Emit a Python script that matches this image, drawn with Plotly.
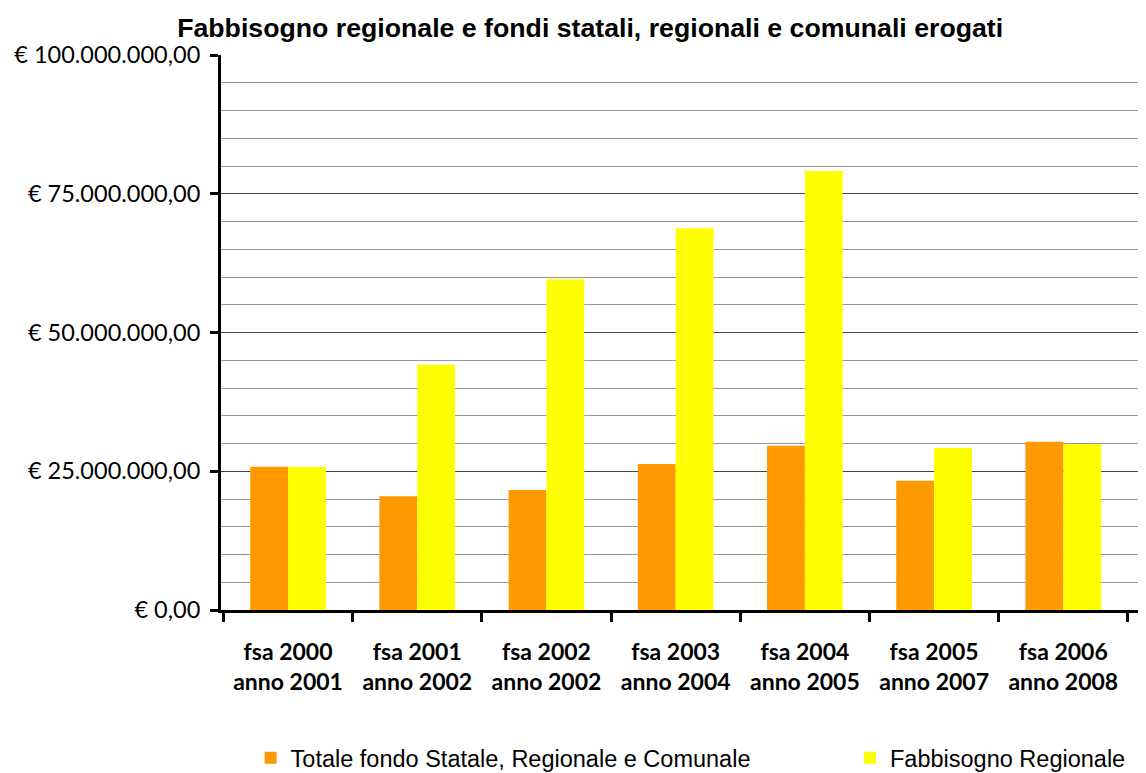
import plotly.graph_objects as go

categories = ["fsa 2000<br>anno 2001", "fsa 2001<br>anno 2002", "fsa 2002<br>anno 2002",
              "fsa 2003<br>anno 2004", "fsa 2004<br>anno 2005", "fsa 2005<br>anno 2007",
              "fsa 2006<br>anno 2008"]
totale_fondo = [25.8e6, 20.5e6, 21.6e6, 26.3e6, 29.6e6, 23.3e6, 30.3e6]
fabbisogno = [25.8e6, 44.2e6, 59.6e6, 68.8e6, 79.1e6, 29.2e6, 29.9e6]
y_tickvals = [0, 25e6, 50e6, 75e6, 100e6]
y_ticktext = ["€ 0,00", "€ 25.000.000,00", "€ 50.000.000,00", "€ 75.000.000,00", "€ 100.000.000,00"]

legend_font = dict(family="Liberation Sans Narrow, Liberation Sans, Arial", size=23.5, color="black")

fig = go.Figure()
fig.add_trace(go.Bar(x=categories, y=totale_fondo, name="Totale fondo Statale, Regionale e Comunale",
                     marker=dict(color="#FF9900", line=dict(width=0)), legend="legend"))
fig.add_trace(go.Bar(x=categories, y=fabbisogno, name="Fabbisogno Regionale",
                     marker=dict(color="#FFFF00", line=dict(width=0)), legend="legend2"))

fig.update_layout(
    width=1146, height=773,
    margin=dict(l=213, r=8, t=47, b=171, autoexpand=False),
    paper_bgcolor="white", plot_bgcolor="white",
    barmode="group", bargap=0.414, bargroupgap=0,
    title=dict(text="<b>Fabbisogno regionale e fondi statali, regionali e comunali erogati</b>",
               x=0.508, xanchor="center", xref="container", y=0.975, yanchor="middle", yref="container",
               font=dict(family="Liberation Sans Narrow, Liberation Sans, Arial", size=26.7, color="black")),
    legend=dict(orientation="h", x=0.032, xanchor="left", y=-0.2667, yanchor="middle",
                itemsizing="constant", font=legend_font, bgcolor="rgba(0,0,0,0)"),
    legend2=dict(orientation="h", x=0.680, xanchor="left", y=-0.2667, yanchor="middle",
                 itemsizing="constant", font=legend_font, bgcolor="rgba(0,0,0,0)"),
    showlegend=True,
)
fig.update_xaxes(
    type="category", range=[-0.519, 6.64], automargin=False,
    showline=True, linecolor="black", linewidth=3,
    ticks="outside", tickson="boundaries", ticklen=9, tickwidth=3, tickcolor="black",
    ticklabelstandoff=19,
    tickfont=dict(family="Lato", size=23, color="black", weight="bold"),
    showgrid=False, zeroline=False,
)
fig.update_yaxes(
    range=[0, 100e6], tickmode="array", tickvals=y_tickvals, ticktext=y_ticktext, automargin=False,
    showline=True, linecolor="black", linewidth=3,
    ticks="outside", ticklen=8, tickwidth=3, tickcolor="black",
    ticklabelstandoff=5,
    tickfont=dict(family="Lato", size=23.5, color="black"),
    showgrid=True, gridcolor="#444444", gridwidth=1.2,
    minor=dict(dtick=5e6, tick0=0, showgrid=True, gridcolor="#999999", gridwidth=1, ticks=""),
    zeroline=False,
)

fig.write_html("out.html")
